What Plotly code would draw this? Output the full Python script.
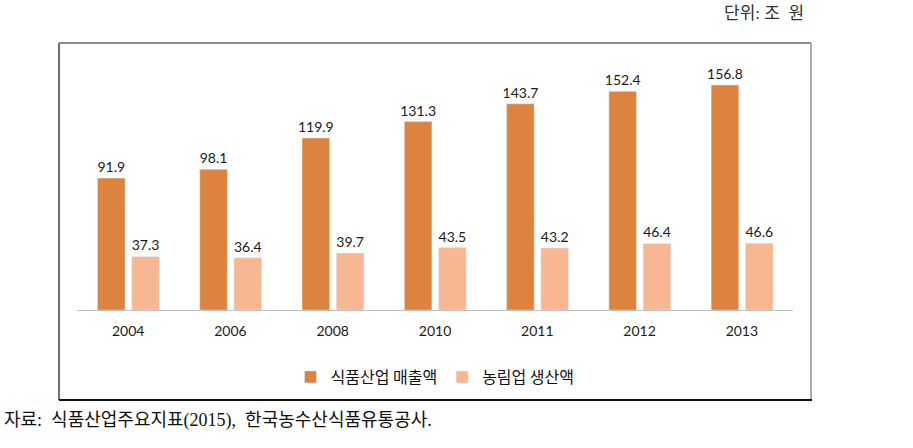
import plotly.graph_objects as go

years = ["2004", "2006", "2008", "2010", "2011", "2012", "2013"]
food_sales = [91.9, 98.1, 119.9, 131.3, 143.7, 152.4, 156.8]
agri_prod = [37.3, 36.4, 39.7, 43.5, 43.2, 46.4, 46.6]
series_names = ["식품산업 매출액", "농림업 생산액"]

W, H = 913, 448
L, R, T, B = 77, 793, 60, 310  # plot area pixel edges

def px(x):
    return (x - L) / (R - L)

def py(y):
    return (B - y) / (B - T)

orange = "#DC843F"
peach = "#F7B793"
label_font = dict(family="Lato, Carlito, sans-serif", size=14, color="#1a1a1a")

fig = go.Figure()
fig.add_trace(go.Bar(
    x=years, y=food_sales, name=series_names[0], marker_color=orange,
    width=0.27, offset=-0.30,
    text=[f"{v:.1f}" for v in food_sales], textposition="outside",
    textfont=label_font, cliponaxis=False, constraintext="none",
))
fig.add_trace(go.Bar(
    x=years, y=agri_prod, name=series_names[1], marker_color=peach,
    width=0.27, offset=0.035,
    text=[f"{v:.1f}" for v in agri_prod], textposition="outside",
    textfont=label_font, cliponaxis=False, constraintext="none",
))

shapes = []
# frame around chart
shapes.append(dict(type="line", xref="paper", yref="paper", x0=px(59), x1=px(59), y0=py(43), y1=py(400),
                   line=dict(color="#6f6f6f", width=2)))
shapes.append(dict(type="line", xref="paper", yref="paper", x0=px(59), x1=px(811), y0=py(43), y1=py(43),
                   line=dict(color="#8c8c8c", width=2)))
shapes.append(dict(type="line", xref="paper", yref="paper", x0=px(811), x1=px(811), y0=py(43), y1=py(400),
                   line=dict(color="#ababab", width=2)))
shapes.append(dict(type="line", xref="paper", yref="paper", x0=px(59), x1=px(812), y0=py(400), y1=py(400),
                   line=dict(color="#111111", width=2)))

annotations = [
    dict(text="단위: 조  원", xref="paper", yref="paper", x=px(806), y=py(13),
         xanchor="right", yanchor="middle", showarrow=False,
         font=dict(family="Liberation Serif, Noto Sans CJK KR", size=17, color="#333333")),
    dict(text="자료:  식품산업주요지표(2015),  한국농수산식품유통공사.", xref="paper", yref="paper",
         x=px(2), y=py(420), xanchor="left", yanchor="middle", showarrow=False,
         font=dict(family="Liberation Serif, Noto Sans CJK KR", size=18, color="#111111")),
]

fig.update_layout(
    width=W, height=H,
    margin=dict(l=L, r=W - R, t=T, b=H - B, pad=0),
    paper_bgcolor="white", plot_bgcolor="white",
    barmode="overlay",
    showlegend=True,
    legend=dict(orientation="h", x=0.5, xanchor="center", y=py(377), yanchor="middle",
                font=dict(family="Noto Sans CJK KR", size=16, color="#111111"),
                itemwidth=30, traceorder="normal", bgcolor="rgba(0,0,0,0)"),
    xaxis=dict(range=[-0.5, len(years) - 0.5], showgrid=False, showline=True,
               linecolor="#BFBFBF", linewidth=1,
               ticks="", tickfont=label_font, ticklabelstandoff=8, fixedrange=True),
    yaxis=dict(range=[0, (B - T) / 1.435], visible=False, showgrid=False, zeroline=False),
    shapes=shapes, annotations=annotations,
)

fig.write_html("out.html", post_script="document.body.style.margin='0';",
               config={"displayModeBar": False})
